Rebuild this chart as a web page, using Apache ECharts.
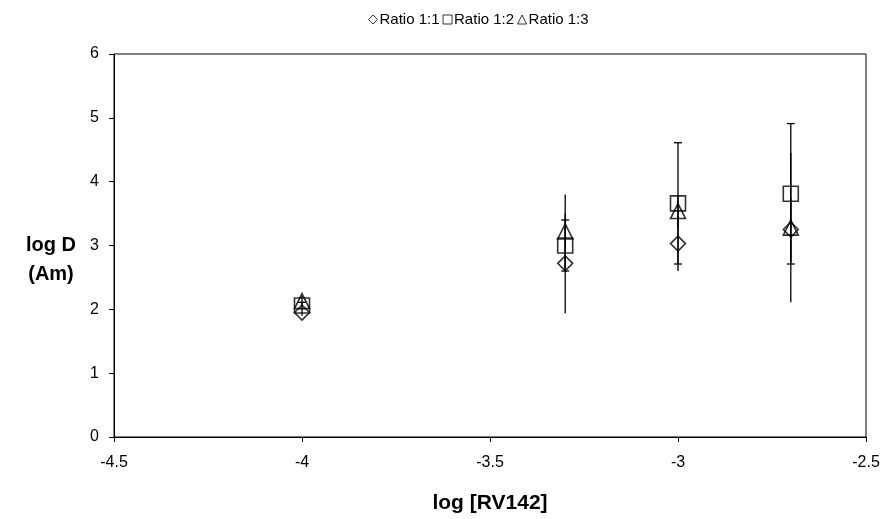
<!DOCTYPE html>
<html>
<head>
<meta charset="utf-8">
<script src="https://cdn.jsdelivr.net/npm/echarts@6/dist/echarts.min.js"></script>
<style>
  html, body { margin: 0; padding: 0; background: #fff; }
  #chart { width: 885px; height: 519px; }
</style>
</head>
<body>
<div id="chart"></div>
<script>
// log [RV142] positions
const xValues = [-4, -3.3, -3, -2.7];

// log D (Am) per ratio
const ratio11 = [1.95, 2.72, 3.03, 3.25];
const ratio12 = [2.06, 3.00, 3.66, 3.81];
const ratio13 = [2.13, 3.22, 3.54, 3.28];

// symmetric error half-widths
const err11 = [0.05, 0.78, 0.43, 0.50];
const err12 = [0.05, 0.40, 0.95, 1.10];
const err13 = [0.08, 0.58, 0.25, 1.17];

const seriesNames = ['Ratio 1:1', 'Ratio 1:2', 'Ratio 1:3'];
const font = 'Liberation Sans, Arial, sans-serif';

function points(ys) {
  return xValues.map((x, i) => [x, ys[i]]);
}
function bars(ys, es) {
  return xValues.map((x, i) => [x, ys[i] - es[i], ys[i] + es[i]]);
}

function errorBarSeries(ys, es, withCaps) {
  return {
    type: 'custom',
    silent: true,
    z: 1,
    data: bars(ys, es),
    encode: { x: 0, y: [1, 2] },
    renderItem: function (params, api) {
      const x = api.value(0);
      const top = api.coord([x, api.value(2)]);
      const bot = api.coord([x, api.value(1)]);
      const st = { stroke: '#000', lineWidth: 1.3 };
      const kids = [{ type: 'line', shape: { x1: top[0], y1: top[1], x2: bot[0], y2: bot[1] }, style: st }];
      if (withCaps) {
        const h = 4;
        kids.push({ type: 'line', shape: { x1: top[0] - h, y1: top[1], x2: top[0] + h, y2: top[1] }, style: st });
        kids.push({ type: 'line', shape: { x1: bot[0] - h, y1: bot[1], x2: bot[0] + h, y2: bot[1] }, style: st });
      }
      return { type: 'group', children: kids };
    }
  };
}

function markerSeries(name, ys, symbol) {
  return {
    name: name,
    type: 'scatter',
    symbol: symbol,
    symbolSize: 15,
    z: 3,
    data: points(ys),
    itemStyle: { color: 'rgba(255,255,255,0)', borderColor: '#000', borderWidth: 1.6 }
  };
}

const chart = echarts.init(document.getElementById('chart'), null, { renderer: 'canvas' });
chart.setOption({
  animation: false,
  backgroundColor: '#fff',
  textStyle: { fontFamily: font, color: '#000' },
  title: {
    text: 'log D\n(Am)',
    left: 46,
    top: 226,
    textAlign: 'center',
    textStyle: { fontFamily: font, fontSize: 20, fontWeight: 'bold', color: '#000', lineHeight: 29 }
  },
  legend: {
    data: seriesNames,
    top: 12,
    left: 368,
    itemWidth: 9,
    itemHeight: 9,
    itemGap: 3,
    padding: 0,
    itemStyle: { borderWidth: 1 },
    textStyle: { fontFamily: font, fontSize: 15, color: '#000', padding: [0, 0, 0, -3] }
  },
  grid: {
    left: 114, right: 19, top: 54, bottom: 77,
    show: true, borderColor: '#000', borderWidth: 1, containLabel: false
  },
  xAxis: {
    type: 'value',
    min: -4.5, max: -2.5, interval: 0.5,
    name: 'log [RV142]',
    nameLocation: 'middle',
    nameGap: 56,
    nameTextStyle: { fontFamily: font, fontSize: 21, fontWeight: 'bold', color: '#000' },
    axisLine: { show: true, onZero: false, lineStyle: { color: '#000', width: 1 } },
    axisTick: { show: true, inside: false, length: 5, lineStyle: { color: '#000' } },
    axisLabel: { fontFamily: font, fontSize: 16, color: '#000', margin: 18 },
    splitLine: { show: false }
  },
  yAxis: {
    type: 'value',
    min: 0, max: 6, interval: 1,
    axisLine: { show: true, lineStyle: { color: '#000', width: 1 } },
    axisTick: { show: true, inside: false, length: 5, lineStyle: { color: '#000' } },
    axisLabel: { fontFamily: font, fontSize: 16, color: '#000', margin: 15 },
    splitLine: { show: false }
  },
  series: [
    errorBarSeries(ratio11, err11, false),
    errorBarSeries(ratio13, err13, false),
    errorBarSeries(ratio12, err12, true),
    markerSeries(seriesNames[0], ratio11, 'diamond'),
    markerSeries(seriesNames[1], ratio12, 'rect'),
    markerSeries(seriesNames[2], ratio13, 'triangle')
  ]
});
</script>
</body>
</html>
